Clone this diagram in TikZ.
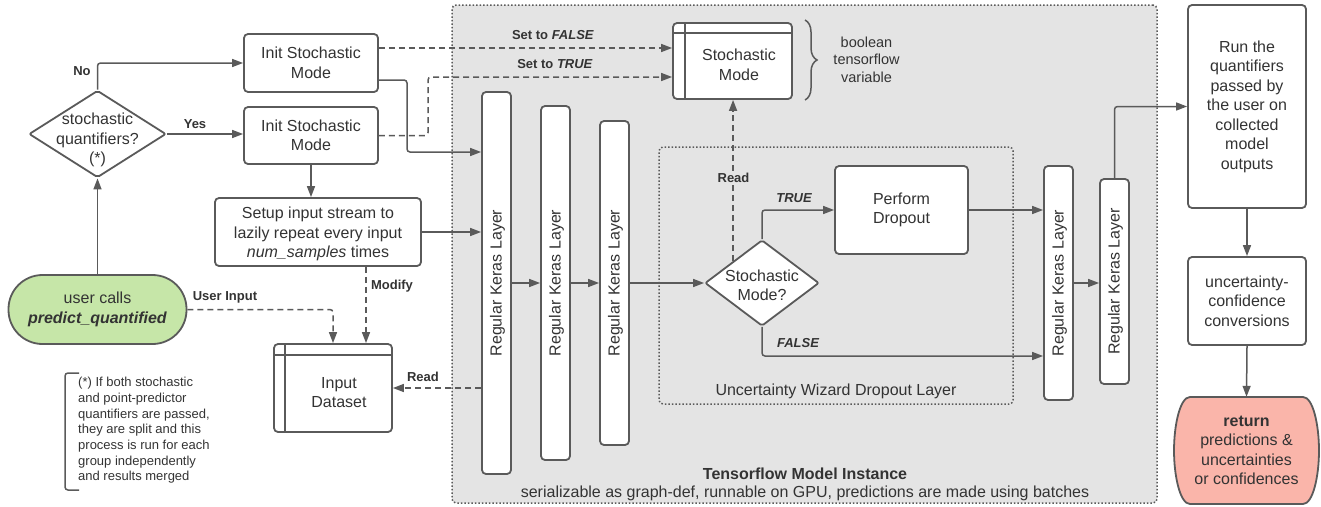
\documentclass[tikz,border=0pt]{standalone}
\usepackage{fontspec}
\setmainfont{Liberation Sans}
\usetikzlibrary{arrows.meta,shapes.geometric,decorations.pathreplacing}
\definecolor{ln}{HTML}{5A5A5A}
\definecolor{tx}{HTML}{333333}
\definecolor{bgg}{HTML}{E4E4E4}
\definecolor{grn}{HTML}{C6E6A8}
\definecolor{salm}{HTML}{FAB5AA}
\newcommand\myfA{\fontsize{16}{19.5}\selectfont}
\newcommand\myfB{\fontsize{13}{15.7}\selectfont}
\newcommand\myfC{\fontsize{14.5}{17.5}\selectfont}
\begin{document}
\begin{tikzpicture}[x=1pt,y=-1pt,
 box/.style={draw=ln,line width=1.8pt,fill=white,rounded corners=4pt,inner sep=0pt,text=tx,font=\myfA,align=center},
 dia/.style={diamond,draw=ln,line width=1.8pt,fill=white,inner sep=0pt,rounded corners=2pt},
 txt/.style={text=tx,font=\myfA,align=center,inner sep=0pt},
 lbl/.style={text=tx,font=\bfseries\myfB,inner sep=1pt},
 arr/.style={draw=ln,line width=1.5pt,-{Triangle[length=11pt,width=8pt]},rounded corners=3pt},
 darr/.style={arr,dash pattern=on 6pt off 4pt},
 inl/.style={draw=ln,line width=1.8pt},
 dotbox/.style={draw=ln,line width=1.5pt,dash pattern=on 1.5pt off 2pt,rounded corners=4pt,inner sep=0pt},
]
\useasboundingbox (0,0) rectangle (1321,506);
% containers
\node[dotbox,fill=bgg,minimum width=705,minimum height=498] (tf) at (804.5,254) {};
\node[dotbox,minimum width=354,minimum height=257] (dl) at (836,275.5) {};
\node[txt] (dlt) at (836,391) {Uncertainty Wizard Dropout Layer};
\node[txt,font=\bfseries\myfA] (tft) at (805,474) {Tensorflow Model Instance};
\node[txt] (tfs) at (805,493) {serializable as graph-def, runnable on GPU, predictions are made using batches};
% left part
\node[box,minimum width=134,minimum height=58] (init1) at (311,63) {Init Stochastic\\Mode};
\node[box,minimum width=134,minimum height=57] (init2) at (311,135.5) {Init Stochastic\\Mode};
\node[dia,minimum width=137,minimum height=87] (q) at (97.5,134) {};
\node[txt] (qt) at (97.5,140) {stochastic\\quantifiers?\\(*)};
\node[box,minimum width=206,minimum height=68] (setup) at (318,232) {};
\node[txt] (setupt) at (318,234) {Setup input stream to\\lazily repeat every input\\\textit{num\_samples} times};
\node[box,fill=grn,rounded corners=34pt,minimum width=178,minimum height=69] (user) at (97.5,309.5) {user calls\\\textbf{\textit{predict\_quantified}}};
\node[box,minimum width=118,minimum height=88] (ds) at (333,388) {};
\draw[inl] ([xshift=12pt]ds.north west) -- ([xshift=12pt]ds.south west);
\draw[inl] ([yshift=-12pt]ds.north west) -- ([yshift=-12pt]ds.north east);
\node[txt] (dst) at (339,392.5) {Input\\Dataset};
% note
\node[txt,font=\myfB,align=left,anchor=north west] (note) at (78,377) {(*) If both stochastic\\and point-predictor\\quantifiers are passed,\\they are split and this\\process is run for each\\group independently\\and results merged};
\draw[draw=ln,line width=1.5pt,rounded corners=3pt] (79,373) -- (65,373) -- (65,490) -- (79,490);
% stochastic mode variable
\node[box,minimum width=119,minimum height=76] (sm) at (732.5,61) {};
\draw[inl] ([xshift=13pt]sm.north west) -- ([xshift=13pt]sm.south west);
\draw[inl] ([yshift=-11pt]sm.north west) -- ([yshift=-11pt]sm.north east);
\node[txt] (smt) at (739,65) {Stochastic\\Mode};
\draw[draw=ln,line width=1.5pt,decorate,decoration={brace,amplitude=12pt}] (805,20) -- (805,100);
\node[txt,font=\myfC] (bt) at (866.5,59.5) {boolean\\tensorflow\\variable};
% layers
\node[box,minimum width=29,minimum height=382] (L1) at (496.5,283) {};
\node[box,minimum width=29,minimum height=354] (L2) at (555.5,283) {};
\node[box,minimum width=29,minimum height=324] (L3) at (614.5,283) {};
\node[box,minimum width=29,minimum height=234] (L4) at (1058.5,283) {};
\node[box,minimum width=29,minimum height=205] (L5) at (1114.5,281.5) {};
\foreach \n in {L1,L2,L3,L4,L5} {\node[txt,rotate=90] (\n t) at ([xshift=1pt]\n.center) {Regular Keras Layer};}
% dropout
\node[dia,minimum width=114,minimum height=86] (d2) at (762,283) {};
\node[txt] (d2t) at (762,285.5) {Stochastic\\Mode?};
\node[box,minimum width=133,minimum height=88] (pd) at (901.5,210) {Perform\\Dropout};
% right
\node[box,minimum width=118,minimum height=203] (run) at (1247,106.5) {Run the\\quantifiers\\passed by\\the user on\\collected\\model\\outputs};
\node[box,minimum width=118,minimum height=88] (conv) at (1247,301) {uncertainty-\\confidence\\conversions};
\draw[draw=ln,line width=1.8pt,fill=salm]
  (1190,397) -- (1303,397) .. controls (1313,397) and (1319,425) .. (1319,450.5)
  .. controls (1319,476) and (1313,504) .. (1303,504) -- (1190,504)
  .. controls (1180,504) and (1174,476) .. (1174,450.5)
  .. controls (1174,425) and (1180,397) .. (1190,397) -- cycle;
\node[txt,minimum width=145,minimum height=107] (ret) at (1246.5,450.5) {\textbf{return}\\predictions \&\\uncertainties\\or confidences};
% helper coordinates
\coordinate (yF) at (0,48);
\coordinate (yT) at (0,77);
\coordinate (yS) at (0,80);
\coordinate (yL) at (0,152);
\coordinate (xA) at (407,0);
\coordinate (xB) at (428,0);
\coordinate (xM) at (366,0);
\coordinate (yFa) at (0,356);
% connectors
\draw[arr] (q.north) |- (init1.west);
\node[lbl] (lno) at (82,71) {No};
\draw[arr] (q.east) -- (q.east -| init2.west);
\node[lbl] (lyes) at (195,124) {Yes};
\draw[arr] (init2.south) -- (init2.south |- setup.north);
\draw[arr] (user.north) -- (q.south);
\draw[darr] (user.east) -| (ds.north);
\node[lbl] (luin) at (225,297) {User Input};
\draw[darr] (setup.south -| xM) -- (ds.north -| xM);
\node[lbl] (lmod) at (392,286) {Modify};
\draw[arr] (setup.east) -- (setup.east -| L1.west);
\draw[darr] (init1.east |- yF) -- (sm.west |- yF);
\node[lbl] (lsf) at (553,35) {Set to \textit{FALSE}};
\draw[arr] (init1.east |- yS) -- (xA |- yS) -- (xA |- yL) -- (L1.west |- yL);
\draw[darr] (init2.east) -- (xB |- init2.east) -- (xB |- yT) -- (sm.west |- yT);
\node[lbl] (lst) at (555,64) {Set to \textit{TRUE}};
\draw[darr] (L1.west |- ds.east) -- (ds.east);
\node[lbl] (lrd1) at (423,377) {Read};
\draw[arr] (L1.east) -- (L2.west);
\draw[arr] (L2.east) -- (L3.west);
\draw[arr] (L3.east) -- (d2.west);
\draw[darr] (d2.north west) -- (d2.north west |- sm.south);
\node[lbl,fill=bgg,inner sep=2pt] (lrd2) at (733.5,178) {Read};
\draw[arr] (d2.north) |- (pd.west);
\node[lbl,font=\bfseries\itshape\myfB] (ltr) at (794,198) {TRUE};
\draw[arr] (pd.east) -- (pd.east -| L4.west);
\draw[arr] (d2.south) -- (d2.south |- yFa) -- (L4.west |- yFa);
\node[lbl,font=\bfseries\itshape\myfB] (lfa) at (798,343) {FALSE};
\draw[arr] (L4.east) -- (L4.east -| L5.west);
\draw[arr] (L5.north) |- (run.west);
\draw[arr] (run.south) -- (conv.north);
\draw[arr] (conv.south) -- (ret.north);
\end{tikzpicture}
\end{document}
